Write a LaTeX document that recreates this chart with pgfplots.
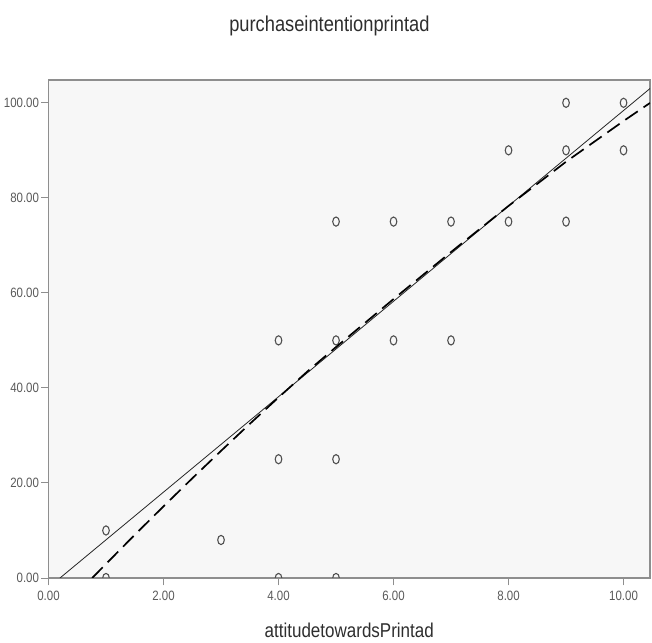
\documentclass[border=0pt]{standalone}
\usepackage{fontspec}
\setmainfont{Liberation Sans}[FakeStretch=0.85]
\usepackage{pgfplots}
\pgfplotsset{compat=1.18}
\definecolor{bgplot}{HTML}{F7F7F7}
\definecolor{frame}{HTML}{8E8E8E}
\definecolor{ticktext}{HTML}{5A5A5A}
\definecolor{mk}{HTML}{505050}
\definecolor{txt}{HTML}{2E2E2E}
\begin{document}
\begin{tikzpicture}
\begin{axis}[
  scale only axis,
  width=601.5bp, height=498bp,
  xmin=0, xmax=10.46, ymin=0, ymax=104.8,
  xtick={0,2,4,6,8,10}, ytick={0,20,40,60,80,100},
  /pgf/number format/assume math mode=true,
  /pgf/number format/.cd, fixed, zerofill, precision=2, /pgfplots/.cd,
  tick align=outside, major tick length=7.5bp,
  tick style={frame, line width=1bp},
  xtick pos=bottom, ytick pos=left,
  axis line style={frame, line width=1.6bp},
  axis background/.style={fill=bgplot},
  ticklabel style={font=\fontsize{13.5bp}{15bp}\selectfont, text=ticktext},
  xticklabel style={yshift=-2bp},
  yticklabel style={xshift=1.5bp},
  title={purchaseintentionprintad},
  title style={at={(axis description cs:0.467,1)}, anchor=center, yshift=48bp,
    font=\fontsize{21.5bp}{24bp}\selectfont, text=txt},
  xlabel={attitudetowardsPrintad},
  xlabel style={at={(axis description cs:0.5,0)}, anchor=center, yshift=-52bp,
    inner sep=0pt, font=\fontsize{20bp}{22bp}\selectfont, text=txt},
  clip marker paths=true,
]
\addplot[only marks, mark=o, mark size=4.6bp, mark options={xscale=0.72, draw=mk, line width=1.1bp}]
  table {
x y
1 0
1 10
3 8
4 0
4 25
4 50
5 0
5 25
5 50
5 75
6 50
6 75
7 50
7 75
8 75
8 90
9 75
9 90
9 100
10 90
10 100
};
\addplot[black!85, line width=0.8bp] coordinates {(0.2,0) (10.46,103)};
\addplot[black, line width=1.7bp, dash pattern=on 15bp off 7bp] coordinates {
(0.76,0) (1,2.97) (1.5,9.08) (2,15.08) (2.5,20.97) (3,26.75) (3.5,32.43)
(4,37.99) (4.5,43.44) (5,48.6) (6,58.7) (7,68.6) (8,78.3) (9,87.6)
(10,96.17) (10.46,99.97)};
\end{axis}
\pgfresetboundingbox
\path ([shift={(-48.5bp,-65bp)}]current axis.south west) rectangle ([shift={(2bp,80bp)}]current axis.north east);
\end{tikzpicture}
\end{document}
